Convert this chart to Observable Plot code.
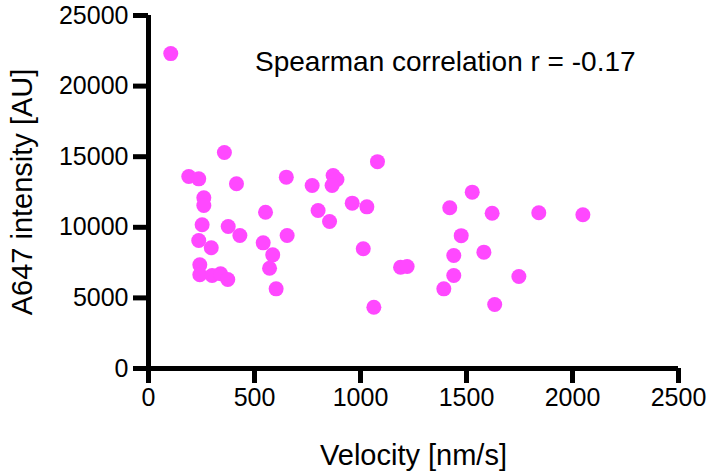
<!DOCTYPE html>
<html>
<head>
<meta charset="utf-8">
<script src="https://cdn.jsdelivr.net/npm/d3@7"></script>
<script src="https://cdn.jsdelivr.net/npm/@observablehq/plot@0.6"></script>
<style>
  html, body { margin: 0; padding: 0; background: #fff; }
</style>
</head>
<body>
<div id="chart"></div>
<script>
const velocity = [105, 358, 1080, 190, 237, 415, 650, 772, 871, 889, 866, 261, 261, 552, 800, 854, 961, 1030, 1421, 1475, 253, 376, 431, 654, 237, 296, 541, 586, 1013, 242, 242, 300, 340, 374, 571, 1189, 1220, 1440, 1440, 1393, 602, 1063, 1527, 1621, 1841, 2049, 1582, 1747, 1633];
const intensity = [22300, 15300, 14650, 13600, 13430, 13080, 13550, 12960, 13670, 13390, 12960, 12090, 11540, 11070, 11190, 10410, 11710, 11450, 11380, 9410, 10180, 10060, 9420, 9420, 9070, 8550, 8900, 8050, 8480, 7340, 6640, 6590, 6710, 6300, 7100, 7170, 7220, 8000, 6590, 5640, 5640, 4340, 12490, 11000, 11030, 10890, 8240, 6520, 4530];
const xTicks = [0, 500, 1000, 1500, 2000, 2500];
const yTicks = [0, 5000, 10000, 15000, 20000, 25000];
const xLabel = "Velocity [nm/s]";
const yLabel = "A647 intensity [AU]";
const note = "Spearman correlation r = -0.17";
const noteX = 1400;
const noteY = 21700;

const data = velocity.map((v, i) => ({v, a: intensity[i]}));

const chart = Plot.plot({
  width: 709,
  height: 476,
  marginLeft: 148,
  marginRight: 31,
  marginTop: 15,
  marginBottom: 108,
  x: {domain: [0, 2500]},
  y: {domain: [0, 25000]},
  style: {fontFamily: "'Liberation Sans', Arial, sans-serif", fontSize: "25px", color: "#000", background: "#fff"},
  marks: [
    Plot.dot(data, {x: "v", y: "a", r: 7.5, fill: "#ff48ff", stroke: "none"}),
    Plot.ruleX([0], {strokeWidth: 5, stroke: "#000"}),
    Plot.ruleY([0], {strokeWidth: 5, stroke: "#000"}),
    Plot.axisX({ticks: xTicks, tickSize: 15, strokeWidth: 5, tickPadding: 5, fontSize: 25, label: null, tickFormat: d => String(d)}),
    Plot.axisY({ticks: yTicks, tickSize: 15, strokeWidth: 5, tickPadding: 5, fontSize: 25, label: null, tickFormat: d => String(d)}),
    Plot.text([xLabel], {frameAnchor: "bottom", dy: 87, text: d => d, fontSize: 29, textAnchor: "middle", lineAnchor: "middle"}),
    Plot.text([yLabel], {frameAnchor: "left", dx: -126, rotate: -90, text: d => d, fontSize: 29, textAnchor: "middle", lineAnchor: "middle"}),
    Plot.text([note], {x: () => noteX, y: () => noteY, text: d => d, fontSize: 28, textAnchor: "middle", lineAnchor: "middle"})
  ]
});
document.getElementById("chart").appendChild(chart);
</script>
</body>
</html>
